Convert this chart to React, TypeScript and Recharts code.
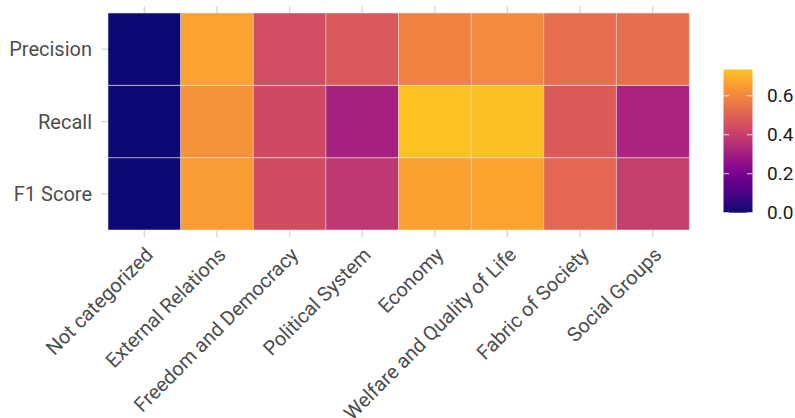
import { BarChart, Bar, XAxis, YAxis, Cell } from 'recharts'

const CATEGORIES = [
  'Not categorized',
  'External Relations',
  'Freedom and Democracy',
  'Political System',
  'Economy',
  'Welfare and Quality of Life',
  'Fabric of Society',
  'Social Groups',
]

const ROWS = ['Precision', 'Recall', 'F1 Score']

const PRECISION = [0.0, 0.667, 0.442, 0.475, 0.583, 0.608, 0.532, 0.536]
const RECALL    = [0.0, 0.625, 0.43, 0.312, 0.735, 0.728, 0.482, 0.318]
const F1_SCORE  = [0.0, 0.651, 0.437, 0.375, 0.66, 0.67, 0.515, 0.4]

const LEGEND_TICKS = [0.0, 0.2, 0.4, 0.6]

// plasma colormap stops
const PLASMA = ['#0d0887', '#41049d', '#6a00a8', '#8f0da4', '#b12a90', '#cc4778', '#e16462', '#f2844b', '#fca636', '#fcce25', '#f0f921']
const PLASMA_END = 0.87
const BLUE_TONE = 0.85 // the reference renders the palette with a slightly weaker blue channel
const VMAX = Math.max(...PRECISION, ...RECALL, ...F1_SCORE)

function hex(c: string) {
  return [1, 3, 5].map(i => parseInt(c.slice(i, i + 2), 16))
}

function plasma(t: number) {
  const s = Math.max(0, Math.min(1, t)) * (PLASMA.length - 1)
  const i = Math.min(Math.floor(s), PLASMA.length - 2)
  const f = s - i
  const a = hex(PLASMA[i])
  const b = hex(PLASMA[i + 1])
  const m = a.map((v, k) => Math.round(v + (b[k] - v) * f))
  return `rgb(${m[0]},${m[1]},${Math.round(m[2] * BLUE_TONE)})`
}

const colorOf = (v: number) => plasma((v / VMAX) * PLASMA_END)

const data = CATEGORIES.map(category => ({
  category,
  f1: 1,
  recall: 1,
  precision: 1,
}))

const FONT = 'Roboto, sans-serif'
const TEXT = '#4d4d4d'
const GRID = '#d6d6d6'
const TILE_STROKE = 'rgba(235,235,235,0.55)'

function XTick({ x, y, payload }: any) {
  const ax = x + 10
  const ay = y + 17
  return (
    <text x={ax} y={ay} transform={`rotate(-45, ${ax}, ${ay})`} textAnchor="end"
      fill={TEXT} fontSize={20} fontFamily={FONT}>
      {payload.value}
    </text>
  )
}

const Empty = () => <g />

// colour bar geometry
const BAR_X = 723.5
const BAR_W = 29
const BAR_TOP = 69.5
const BAR_BOTTOM = 212.7

function ColorBar() {
  const stops = Array.from({ length: 21 }, (_, i) => i / 20)
  const yOf = (v: number) => BAR_BOTTOM - (v / VMAX) * (BAR_BOTTOM - BAR_TOP)
  return (
    <svg width={795} height={418} style={{ position: 'absolute', left: 0, top: 0, pointerEvents: 'none' }}>
      <defs>
        <linearGradient id="plasmaGrad" x1="0" y1="1" x2="0" y2="0">
          {stops.map(s => (
            <stop key={s} offset={s} stopColor={plasma(s * PLASMA_END)} />
          ))}
        </linearGradient>
      </defs>
      <rect x={BAR_X} y={BAR_TOP} width={BAR_W} height={BAR_BOTTOM - BAR_TOP} fill="url(#plasmaGrad)" />
      {LEGEND_TICKS.map(v => (
        <g key={v}>
          <line x1={BAR_X} x2={BAR_X + 5.5} y1={yOf(v)} y2={yOf(v)} stroke="rgba(255,255,255,0.8)" strokeWidth={1} />
          <line x1={BAR_X + BAR_W - 5.5} x2={BAR_X + BAR_W} y1={yOf(v)} y2={yOf(v)} stroke="rgba(255,255,255,0.8)" strokeWidth={1} />
          <text x={767} y={yOf(v)} dominantBaseline="central" fontSize={19} fontFamily={FONT} fill="#1a1a1a">
            {v.toFixed(1)}
          </text>
        </g>
      ))}
    </svg>
  )
}

export default function App() {
  return (
    <div style={{ position: 'relative', width: 795, height: 418, background: '#fff' }}>
      <style>{'body{margin:0}'}</style>
      <BarChart width={795} height={418} data={data} barCategoryGap={0} barGap={0}
        margin={{ top: 5, right: 0, bottom: 0, left: 0 }}>
        <XAxis dataKey="category" height={188} interval={0} axisLine={false} tickSize={7}
          tickLine={{ stroke: GRID, strokeWidth: 1.3 }} tick={<XTick />} />
        <XAxis xAxisId="top" orientation="top" dataKey="category" height={8} interval={0} axisLine={false}
          tickSize={7} tickLine={{ stroke: GRID, strokeWidth: 1.3 }} tick={<Empty />} />
        <YAxis type="number" domain={[0, 3]} ticks={[0.5, 1.5, 2.5]} width={108} axisLine={false}
          tickSize={7} tickMargin={9} tickLine={{ stroke: GRID, strokeWidth: 1.3 }}
          tickFormatter={(v: number) => ROWS[2 - Math.floor(v)]}
          tick={{ fill: TEXT, fontSize: 20, fontFamily: FONT }} />
        <YAxis yAxisId="right" orientation="right" type="number" domain={[0, 3]} ticks={[0.5, 1.5, 2.5]}
          width={106} axisLine={false} tickSize={7} tickLine={{ stroke: GRID, strokeWidth: 1.3 }} tick={<Empty />} />
        <Bar dataKey="f1" stackId="tiles" stroke={TILE_STROKE} strokeWidth={1} isAnimationActive={false}>
          {F1_SCORE.map((v, i) => <Cell key={i} fill={colorOf(v)} />)}
        </Bar>
        <Bar dataKey="recall" stackId="tiles" stroke={TILE_STROKE} strokeWidth={1} isAnimationActive={false}>
          {RECALL.map((v, i) => <Cell key={i} fill={colorOf(v)} />)}
        </Bar>
        <Bar dataKey="precision" stackId="tiles" stroke={TILE_STROKE} strokeWidth={1} isAnimationActive={false}>
          {PRECISION.map((v, i) => <Cell key={i} fill={colorOf(v)} />)}
        </Bar>
      </BarChart>
      <ColorBar />
    </div>
  )
}
